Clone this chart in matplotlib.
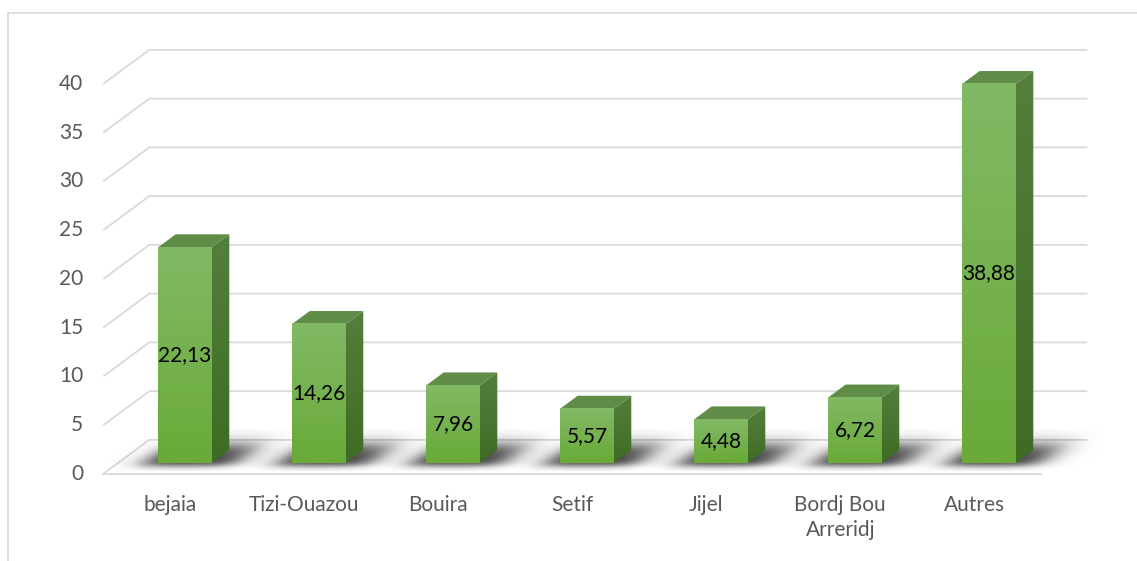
import numpy as np
import matplotlib
matplotlib.use("Agg")
import matplotlib.pyplot as plt
from matplotlib.patches import Polygon
from matplotlib.lines import Line2D
from matplotlib.colors import LinearSegmentedColormap

# ---- data ----
categories = ["bejaia", "Tizi-Ouazou", "Bouira", "Setif", "Jijel", "Bordj Bou\nArreridj", "Autres"]
values = [22.13, 14.26, 7.96, 5.57, 4.48, 6.72, 38.88]
value_labels = ["22,13", "14,26", "7,96", "5,57", "4,48", "6,72", "38,88"]
y_ticks = [0, 5, 10, 15, 20, 25, 30, 35, 40]

# ---- layout (pixels) ----
W, H = 1137, 561
X0_PX = 185.0      # pixel x of first bar's front-face centre
STEP_PX = 134.0    # pixel distance between categories
BASE_ROW = 463.0   # pixel row of bar front-face bottom
PX_PER_UNIT = 9.75
DEPTH_DX, DEPTH_DY = 46.0, 34.0   # full-depth projection in px
D_BAR0, D_BAR1 = 0.32, 0.70       # bar depth range
HALF_W = 0.2

plt.rcParams['font.family'] = ['Lato', 'DejaVu Sans']
fig = plt.figure(figsize=(W / 100, H / 100), dpi=100)
ax = fig.add_axes([0, 0, 1, 1])
ax.set_axis_off()

x_lo = -X0_PX / STEP_PX
x_hi = (W - X0_PX) / STEP_PX
y_lo = -(H - BASE_ROW) / PX_PER_UNIT
y_hi = BASE_ROW / PX_PER_UNIT


def proj(x, v, d):
    """category-unit x, value v, depth d -> data coords (bar front plane is reference)"""
    dd = d - D_BAR0
    return x + DEPTH_DX * dd / STEP_PX, v + DEPTH_DY * dd / PX_PER_UNIT


grid_c = "#d9d9d9"
txt_c = "#595959"
FS = 15
n = len(categories)
xl, xr = -0.5, n - 0.5
for t in y_ticks:
    a = proj(xl, t, 0.0)
    b = proj(xl, t, 1.0)
    c = proj(xr, t, 1.0)
    ax.plot([a[0], b[0], c[0]], [a[1], b[1], c[1]], color=grid_c, lw=1.3, zorder=1,
            solid_capstyle='butt')
    ax.text(a[0] - 0.15, a[1], str(t), ha='right', va='center', fontsize=FS, color=txt_c)
# front floor edge
a = proj(xl, 0, 0.0)
b = proj(xr, 0, 0.0)
ax.plot([a[0], b[0]], [a[1], b[1]], color=grid_c, lw=1.3, zorder=1)

front_cmap = LinearSegmentedColormap.from_list("f", ["#69aa38", "#82b965"])
side_cmap = LinearSegmentedColormap.from_list("s", ["#3e6c24", "#547f3c"])
top_c = "#5f8c47"
grad = np.linspace(0, 1, 256).reshape(-1, 1)

# soft floor shadow, built in pixel space around a bar's front-bottom centre
U_MIN, U_MAX, R_MIN, R_MAX = -95.0, 115.0, -8.0, 34.0
uu = np.linspace(U_MIN, U_MAX, 210)
rr = np.linspace(R_MIN, R_MAX, 42)
UU, RR = np.meshgrid(uu, rr)
XF = UU - RR * DEPTH_DX / DEPTH_DY   # floor x, unskewed


def sig(z):
    return 1.0 / (1.0 + np.exp(-z))


hw_px = HALF_W * STEP_PX
a_sh = sig((XF - (-hw_px - 14)) / 8.0) * sig(((hw_px + 24) - XF) / 9.0) \
    * sig((RR - (-3.0)) / 2.0) * sig((18.0 - RR) / 4.5)
shadow = np.zeros(a_sh.shape + (4,))
shadow[..., 3] = 0.8 * a_sh

for i, (v, lab) in enumerate(zip(values, value_labels)):
    x0, x1 = i - HALF_W, i + HALF_W
    # shadow on floor
    ax.imshow(shadow, origin='lower', aspect='auto', interpolation='bilinear', zorder=2,
              extent=[i + U_MIN / STEP_PX, i + U_MAX / STEP_PX,
                      R_MIN / PX_PER_UNIT, R_MAX / PX_PER_UNIT])
    # right side face
    p0 = proj(x1, 0, D_BAR0); p1 = proj(x1, 0, D_BAR1)
    p2 = proj(x1, v, D_BAR1); p3 = proj(x1, v, D_BAR0)
    side = Polygon([p0, p1, p2, p3], closed=True, facecolor='none', edgecolor='none')
    ax.add_patch(side)
    im = ax.imshow(grad, cmap=side_cmap, origin='lower', aspect='auto',
                   extent=[p0[0], p1[0], p0[1], p2[1]], zorder=3)
    im.set_clip_path(side)
    # top face
    t0 = proj(x0, v, D_BAR0); t1 = proj(x1, v, D_BAR0)
    t2 = proj(x1, v, D_BAR1); t3 = proj(x0, v, D_BAR1)
    ax.add_patch(Polygon([t0, t1, t2, t3], closed=True, facecolor=top_c, edgecolor='none', zorder=3))
    # front face
    ax.imshow(grad, cmap=front_cmap, origin='lower', aspect='auto',
              extent=[x0, x1, 0, v], zorder=4)
    ax.text(i, v / 2, lab, ha='center', va='center', fontsize=FS, color='black', zorder=6)
    # category label
    lp = proj(i, 0, 0.0)
    ax.text(lp[0], lp[1] - 2.2, categories[i], ha='center', va='top', fontsize=FS,
            color=txt_c, linespacing=1.3)

ax.set_xlim(x_lo, x_hi)
ax.set_ylim(y_lo, y_hi)

# chart border
fig.add_artist(Line2D([8 / W, 1.0], [1 - 13 / H, 1 - 13 / H], color=grid_c, lw=1.2))
fig.add_artist(Line2D([8 / W, 8 / W], [0, 1 - 13 / H], color=grid_c, lw=1.2))

fig.savefig("out.png", dpi=100)
